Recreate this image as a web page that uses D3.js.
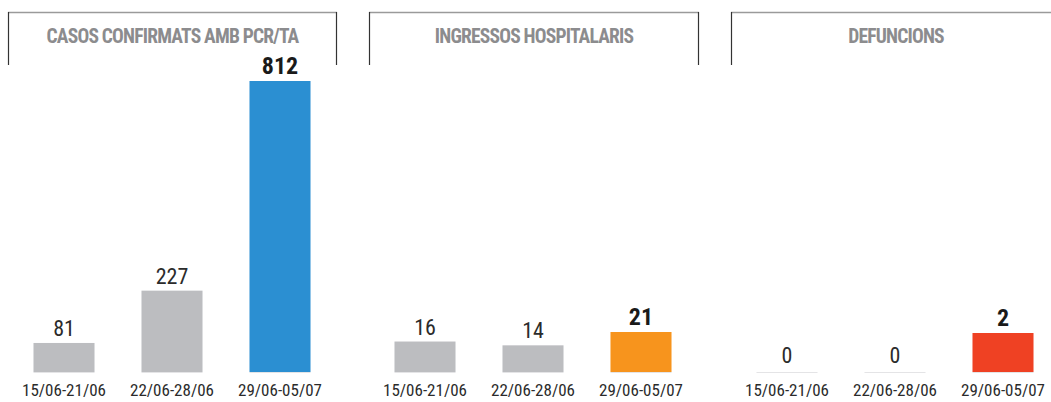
<!DOCTYPE html>
<html>
  <head>
    <meta charset="utf-8">
    <title>Casos, ingressos i defuncions</title>
    <script src="https://d3js.org/d3.v7.min.js"></script>
    <style>
      body { margin: 0; background: #fff; }
      text { font-family: "Liberation Sans Narrow", "Arial Narrow", "Roboto Condensed", sans-serif; }
    </style>
  </head>
  <body>

  <script type="text/javascript">
  // setmanes
  var categories = ['15/06-21/06', '22/06-28/06', '29/06-05/07'];
  var titles = ['CASOS CONFIRMATS AMB PCR/TA', 'INGRESSOS HOSPITALARIS', 'DEFUNCIONS'];
  var casos = [81, 227, 812];
  var ingressos = [16, 14, 21];
  var defuncions = [0, 0, 2];
  var series = [casos, ingressos, defuncions];
  var highlight = ['#2b8fd2', '#f7941d', '#ef4123'];

  var W = 1051, H = 402;
  var base = 372;
  var panelX = [8, 369, 731];
  var panelW = [329, 330, 330];
  var panelH = [291, 40, 39]; // height of tallest bar in each panel

  var svg = d3.select('body')
              .append('svg')
              .attr('width', W)
              .attr('height', H);

  series.forEach(function(vals, i){
    var px = panelX[i];
    var g = svg.append('g');

    /* header bracket */
    var right = i == 2 ? W : px + panelW[i];
    g.append('line')
     .attr('x1', px).attr('x2', right)
     .attr('y1', 12.5).attr('y2', 12.5)
     .attr('stroke', '#9a9a9a').attr('stroke-width', 1.5);
    g.append('line')
     .attr('x1', px + 0.5).attr('x2', px + 0.5)
     .attr('y1', 12).attr('y2', 65)
     .attr('stroke', '#333').attr('stroke-width', 1.2);
    if (i < 2) {
      g.append('line')
       .attr('x1', right - 0.5).attr('x2', right - 0.5)
       .attr('y1', 12).attr('y2', 65)
       .attr('stroke', '#333').attr('stroke-width', 1.2);
    }
    g.append('text')
     .attr('x', px + panelW[i] / 2)
     .attr('y', 43)
     .attr('text-anchor', 'middle')
     .attr('font-size', 19.5)
     .attr('font-weight', 'bold')
     .attr('letter-spacing', -0.8)
     .attr('fill', '#8c8c8e')
     .text(titles[i]);

    var x = d3.scaleBand()
              .domain(categories)
              .range([px + 2, px + 2 + 3 * 108])
              .paddingInner(0.435)
              .paddingOuter(0.2175);
    var y = d3.scaleLinear()
              .domain([0, d3.max(vals)])
              .range([base, base - panelH[i]]);

    var bars = g.selectAll('g.bar')
      .data(vals)
      .enter()
      .append('g')
      .attr('class', 'bar');

    bars.append('rect')
        .attr('x', function(d, j){ return x(categories[j]); })
        .attr('y', base)
        .attr('width', x.bandwidth())
        .attr('height', 1)
        .attr('fill', '#e4e4e6');
    bars.append('rect')
        .attr('x', function(d, j){ return x(categories[j]); })
        .attr('y', function(d){ return y(d); })
        .attr('width', x.bandwidth())
        .attr('height', function(d){ return base - y(d); })
        .attr('fill', function(d, j){ return j == 2 ? highlight[i] : '#bcbdc0'; });
    bars.append('text')
        .attr('x', function(d, j){ return x(categories[j]) + x.bandwidth() / 2; })
        .attr('y', function(d, j){ return y(d) - (d == 0 ? 9 : 7); })
        .attr('text-anchor', 'middle')
        .attr('font-size', function(d, j){ return j == 2 ? 24 : 22; })
        .attr('font-weight', function(d, j){ return j == 2 ? 'bold' : 'normal'; })
        .attr('fill', function(d, j){ return j == 2 ? '#1a1a1a' : '#2b2b2b'; })
        .text(function(d){ return d; });

    var axis = d3.axisBottom(x).tickSize(0).tickPadding(0);
    var ax = g.append('g')
      .attr('transform', 'translate(0,' + 384 + ')')
      .call(axis);
    ax.select('.domain').remove();
    ax.selectAll('text')
      .attr('font-size', 17)
      .attr('fill', '#2b2b2b')
      .attr('dy', '0.7em');
  });
  </script>
  </body>
</html>
